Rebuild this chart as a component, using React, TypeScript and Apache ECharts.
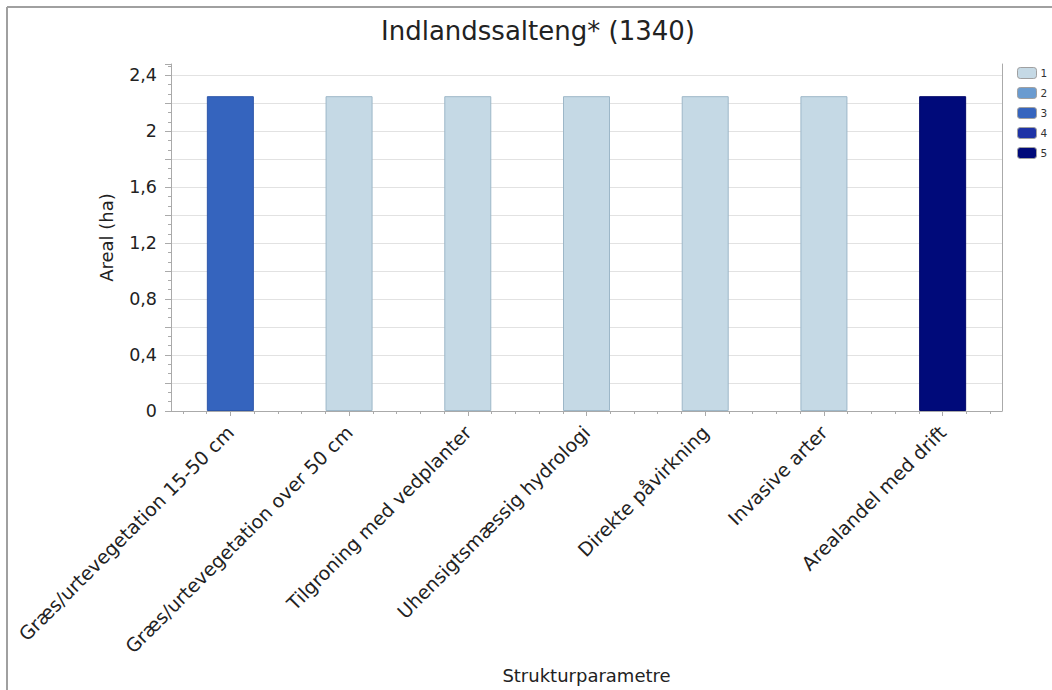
import React, { useEffect, useRef } from "react";
import * as echarts from "echarts";

const title = "Indlandssalteng* (1340)";
const categories = [
  "Græs/urtevegetation 15-50 cm",
  "Græs/urtevegetation over 50 cm",
  "Tilgroning med vedplanter",
  "Uhensigtsmæssig hydrologi",
  "Direkte påvirkning",
  "Invasive arter",
  "Arealandel med drift",
];
const values = [2.25, 2.25, 2.25, 2.25, 2.25, 2.25, 2.25];
const levels = [3, 1, 1, 1, 1, 1, 5];
const levelNames = ["1", "2", "3", "4", "5"];
const levelColors = ["#c5d9e5", "#6a9bd0", "#3564be", "#1e33a6", "#000a7a"];
const levelBorders = ["#9db7c8", "#5a88bb", "#2d56a8", "#182a90", "#00086a"];
const yTicks = [0, 0.4, 0.8, 1.2, 1.6, 2, 2.4];

const FONT = "'DejaVu Sans', Verdana, sans-serif";

export default function App() {
  const ref = useRef<HTMLDivElement>(null);
  useEffect(() => {
    if (!ref.current) return;
    const chart = echarts.init(ref.current, null, { renderer: "svg" });
    const minorCats = Array.from({ length: categories.length * 5 }, (_, i) => "m" + i);
    const series = levelNames.map((name, k) => ({
      name,
      type: "bar" as const,
      stack: "total",
      barWidth: 47,
      xAxisIndex: 0,
      yAxisIndex: 0,
      itemStyle: { color: levelColors[k], borderColor: levelBorders[k], borderWidth: 1 },
      data: values.map((v, i) => (levels[i] === k + 1 ? v : "-")),
    }));
    chart.setOption({
      animation: false,
      textStyle: { fontFamily: FONT },
      title: {
        text: title,
        left: 538,
        textAlign: "center",
        top: 18,
        padding: 0,
        textStyle: { fontSize: 26, fontWeight: "normal", color: "#222", fontFamily: FONT },
      },
      legend: {
        orient: "vertical",
        left: 1017,
        top: 67,
        padding: 0,
        itemWidth: 19,
        itemHeight: 11,
        itemGap: 8,
        data: levelNames.map((n, k) => ({
          name: n,
          itemStyle: { color: levelColors[k], borderColor: "#a0a0a0", borderWidth: 1 },
        })),
        textStyle: { fontSize: 10.5, color: "#333", fontFamily: FONT, padding: [0, 0, 0, -1] },
        selectedMode: false,
      },
      grid: { left: 171, right: 50, top: 64, bottom: 279, containLabel: false },
      xAxis: [
        {
          type: "category",
          data: categories,
          name: "Strukturparametre",
          nameLocation: "middle",
          nameGap: 255,
          nameTextStyle: { fontSize: 18, color: "#222", fontFamily: FONT },
          axisLine: { show: true, lineStyle: { color: "#aaaaaa", width: 1 } },
          axisTick: { show: true, alignWithLabel: true, length: 5, lineStyle: { color: "#aaaaaa" } },
          axisLabel: {
            rotate: 45,
            fontSize: 19,
            color: "#222",
            margin: 18,
            interval: 0,
            fontFamily: FONT,
          },
          splitLine: { show: false },
        },
        {
          type: "category",
          data: minorCats,
          position: "bottom",
          axisLine: { show: false },
          axisTick: { show: true, alignWithLabel: true, interval: 0, length: 3, lineStyle: { color: "#aaaaaa" } },
          axisLabel: { show: false },
          splitLine: { show: false },
        },
      ],
      yAxis: [
        {
          type: "value",
          min: 0,
          max: 2.48,
          interval: 0.2,
          name: "Areal (ha)",
          nameLocation: "middle",
          nameGap: 56,
          nameTextStyle: { fontSize: 18, color: "#222", fontFamily: FONT },
          axisLine: { show: true, lineStyle: { color: "#aaaaaa", width: 1 } },
          axisTick: { show: true, length: 6, lineStyle: { color: "#aaaaaa" } },
          minorTick: { show: true, splitNumber: 3, length: 3, lineStyle: { color: "#aaaaaa" } },
          splitLine: { show: true, showMaxLine: false, lineStyle: { color: "#e2e2e2", width: 1 } },
          axisLabel: {
            fontSize: 17.5,
            color: "#222",
            margin: 14,
            fontFamily: FONT,
            showMaxLabel: false,
            formatter: (v: number) => {
              const hit = yTicks.find((t) => Math.abs(v - t) < 1e-6);
              return hit === undefined ? "" : String(hit).replace(".", ",");
            },
          },
        },
        {
          type: "value",
          position: "right",
          min: 0,
          max: 1,
          axisLine: { show: true, lineStyle: { color: "#aaaaaa", width: 1 } },
          axisTick: { show: false },
          axisLabel: { show: false },
          splitLine: { show: false },
        },
      ],
      graphic: [
        { type: "line", shape: { x1: 7, y1: 7, x2: 1052, y2: 7 }, style: { stroke: "#a0a0a0", lineWidth: 2 } },
        { type: "line", shape: { x1: 7, y1: 7, x2: 7, y2: 690 }, style: { stroke: "#a0a0a0", lineWidth: 2 } },
      ],
      series,
    });
    return () => chart.dispose();
  }, []);
  return (
    <div
      ref={ref}
      style={{ position: "fixed", left: 0, top: 0, width: 1052, height: 690, background: "#fff" }}
    />
  );
}
